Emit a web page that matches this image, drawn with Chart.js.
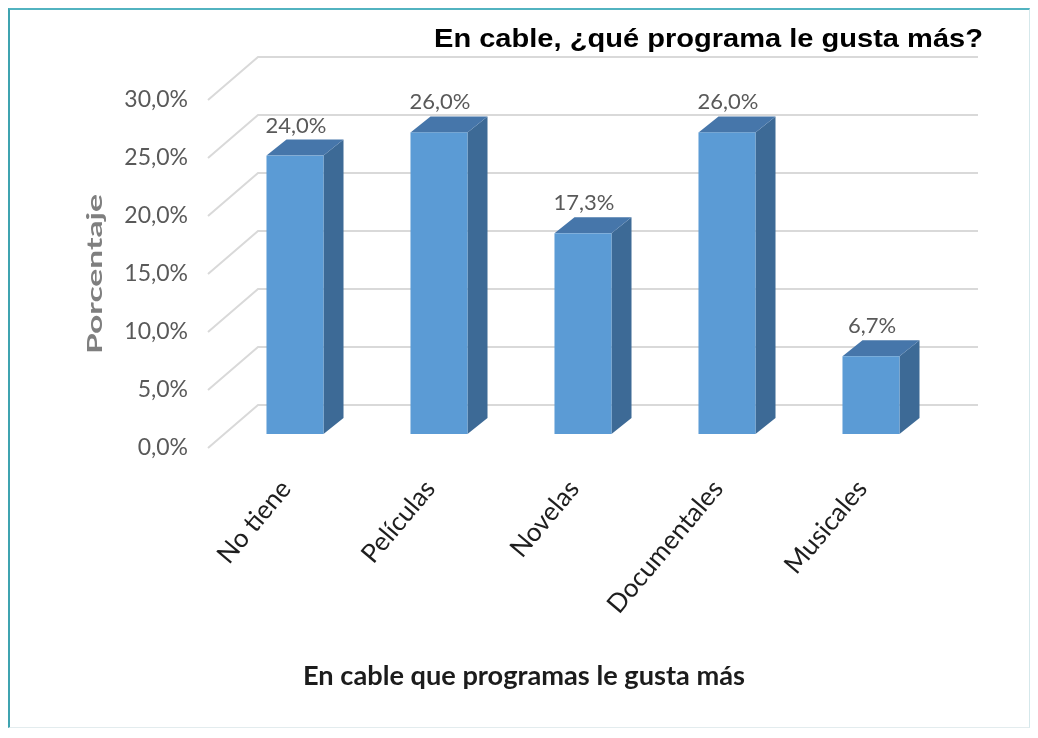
<!DOCTYPE html>
<html>
<head>
<meta charset="utf-8">
<script src="https://cdn.jsdelivr.net/npm/chart.js@4.4.1/dist/chart.umd.min.js"></script>
<style>
  html, body { margin: 0; padding: 0; background: #ffffff; }
  #wrap { position: relative; width: 1038px; height: 738px; }
  #frame { position: absolute; left: 8px; top: 8px; width: 1022px; height: 720px;
           border-left: 2px solid #3fa3b0; border-top: 2px solid #52b3c0;
           border-right: 1px solid #d5e8eb; border-bottom: 1px solid #e3ecee; box-sizing: border-box; pointer-events: none; }
  canvas { position: absolute; left: 0; top: 0; }
</style>
</head>
<body>
<div id="wrap">
  <canvas id="c" width="1038" height="738"></canvas>
  <div id="frame"></div>
</div>
<script>
// ---- data ----
const categories = ["No tiene", "Películas", "Novelas", "Documentales", "Musicales"];
const values = [24.0, 26.0, 17.3, 26.0, 6.7];
const yTicks = [0, 5, 10, 15, 20, 25, 30];
const chartTitle = "En cable, ¿qué programa le gusta más?";
const xTitle = "En cable que programas le gusta más";
const yTitle = "Porcentaje";

const fmt = v => v.toFixed(1).replace('.', ',') + '%';

// 3D geometry (pixels)
const WALL = { dx: 50, dy: -43 };   // front edge -> back wall
const BAR_OFF = { dx: 15, dy: -14 }; // front edge -> bar front face
const BAR_DEPTH = { dx: 20, dy: -16 };

function fitText(ctx, text, x, y, font, targetW, align) {
  ctx.save();
  ctx.font = font;
  const w = ctx.measureText(text).width;
  ctx.translate(x, y);
  ctx.scale(targetW / w, 1);
  ctx.textAlign = align;
  ctx.textBaseline = 'alphabetic';
  ctx.fillText(text, 0, 0);
  ctx.restore();
}

const plugin3d = {
  id: 'plugin3d',
  beforeDatasetsDraw(chart) {
    const ctx = chart.ctx, ys = chart.scales.y, area = chart.chartArea;
    ctx.save();
    ctx.strokeStyle = '#d9d9d9';
    ctx.lineWidth = 2;
    yTicks.forEach(v => {
      const yf = ys.getPixelForValue(v);
      ctx.beginPath();
      ctx.moveTo(area.left, yf);
      ctx.lineTo(area.left + WALL.dx, yf + WALL.dy);
      ctx.lineTo(area.right + WALL.dx, yf + WALL.dy);
      ctx.stroke();
    });
    ctx.restore();
  },
  afterDatasetsDraw(chart) {
    const ctx = chart.ctx;
    const meta = chart.getDatasetMeta(0);
    ctx.save();
    meta.data.forEach((el, i) => {
      const p = el.getProps(['x', 'y', 'base', 'width'], true);
      const l = p.x - p.width / 2 + BAR_OFF.dx, r = p.x + p.width / 2 + BAR_OFF.dx;
      const t = p.y + BAR_OFF.dy, b = p.base + BAR_OFF.dy;
      const dx = BAR_DEPTH.dx, dy = BAR_DEPTH.dy;
      // side
      ctx.fillStyle = '#3d6a96';
      ctx.beginPath();
      ctx.moveTo(r, t); ctx.lineTo(r + dx, t + dy); ctx.lineTo(r + dx, b + dy); ctx.lineTo(r, b);
      ctx.closePath(); ctx.fill();
      // top
      ctx.fillStyle = '#4676aa';
      ctx.beginPath();
      ctx.moveTo(l, t); ctx.lineTo(l + dx, t + dy); ctx.lineTo(r + dx, t + dy); ctx.lineTo(r, t);
      ctx.closePath(); ctx.fill();
      // front
      ctx.fillStyle = '#5b9bd5';
      ctx.fillRect(l, t, r - l, b - t);
      // label
      ctx.fillStyle = '#595959';
      ctx.font = '22px Lato';
      ctx.textAlign = 'center';
      ctx.textBaseline = 'alphabetic';
      ctx.fillText(fmt(values[i]), (l + r) / 2 + 1, t + dy - 7);
    });
    ctx.restore();
  },
  afterDraw(chart) {
    const ctx = chart.ctx;
    ctx.save();
    // main title
    ctx.fillStyle = '#000000';
    fitText(ctx, chartTitle, 983, 47, 'bold 25px "Liberation Sans", Arial', 549, 'right');
    // x title
    ctx.fillStyle = '#1c1c1c';
    fitText(ctx, xTitle, 524, 685, 'bold 26px Lato', 442, 'center');
    // y title
    ctx.save();
    ctx.translate(102, 274);
    ctx.rotate(-Math.PI / 2);
    ctx.fillStyle = '#7f7f7f';
    fitText(ctx, yTitle, 0, 0, 'bold 20px Lato', 160, 'center');
    ctx.restore();
    ctx.restore();
  }
};

new Chart(document.getElementById('c'), {
  type: 'bar',
  data: {
    labels: categories,
    datasets: [{
      data: values,
      backgroundColor: 'rgba(0,0,0,0)',
      borderWidth: 0,
      barPercentage: 0.396,
      categoryPercentage: 1.0
    }]
  },
  options: {
    responsive: false,
    animation: false,
    layout: { padding: { left: 0, right: 110, top: 100, bottom: 0 } },
    plugins: { legend: { display: false }, tooltip: { enabled: false }, title: { display: false } },
    scales: {
      x: {
        grid: { display: false, drawTicks: false },
        border: { display: false },
        afterFit(scale) { scale.height = 290; },
        ticks: {
          color: '#1e1e1e',
          font: { family: 'Lato', size: 26 },
          minRotation: 50, maxRotation: 50,
          padding: 26,
          labelOffset: 6,
          autoSkip: false
        }
      },
      y: {
        min: 0, max: 30,
        grid: { display: false, drawTicks: false },
        border: { display: false },
        afterFit(scale) { scale.width = 208; },
        afterBuildTicks(scale) { scale.ticks = yTicks.map(v => ({ value: v })); },
        ticks: {
          color: '#595959',
          font: { family: 'Lato', size: 23 },
          padding: 20,
          callback: v => fmt(v)
        }
      }
    }
  },
  plugins: [plugin3d]
});
</script>
</body>
</html>
